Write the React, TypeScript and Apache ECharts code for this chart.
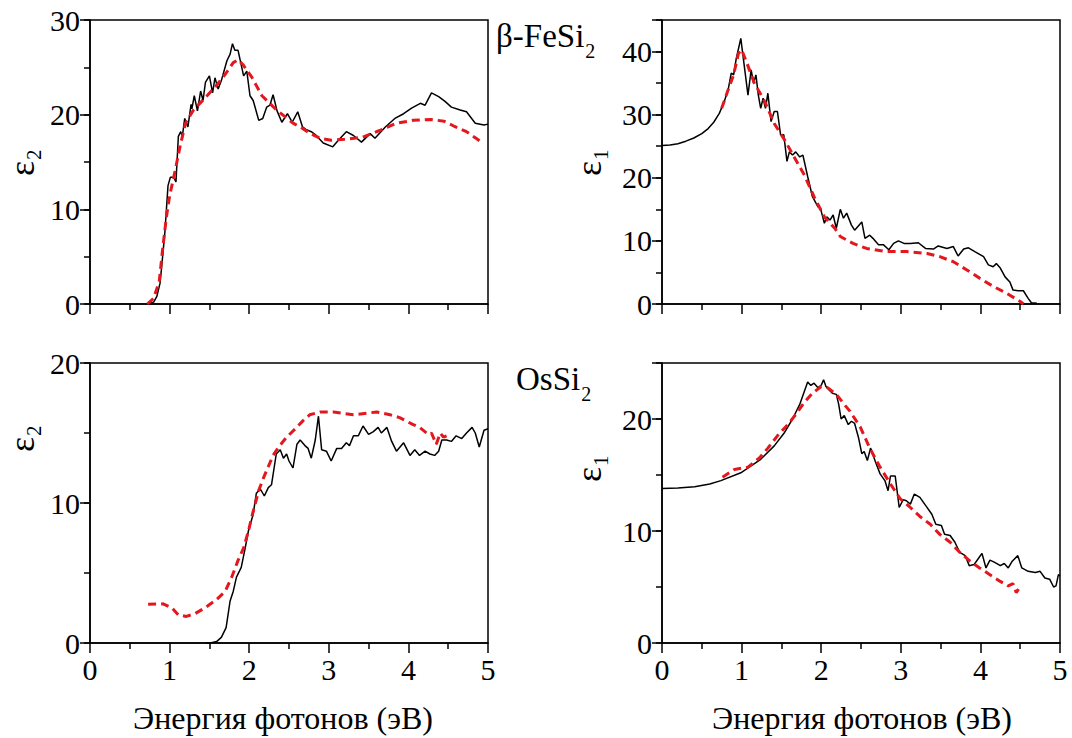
import React, { useEffect, useRef } from 'react';
import * as echarts from 'echarts';

const FONT = '"Liberation Serif", "Times New Roman", serif';

// x axis (photon energy, eV)
const xMin = 0;
const xMax = 5;
// y-axis maxima for the four panels: TL, TR, BL, BR
const yMaxes = [30, 45, 20, 25];

// β-FeSi2, ε2 — experiment (black) and calculation (red dashed)
const feEps2Exp: [number, number][] = [
  [0.72, 0], [0.8, 0.2], [0.84, 0.8], [0.88, 2.2], [0.9, 3.9], [0.94, 7.5], [0.98, 12.5], [1.01, 13.4], [1.05, 13.4],
  [1.08, 12.9], [1.11, 17.7], [1.14, 18.2], [1.16, 17.7], [1.19, 19.6], [1.23, 18.7], [1.27, 21.1], [1.28, 20.6],
  [1.31, 22.0], [1.35, 20.4], [1.39, 22.5], [1.42, 21.5], [1.45, 23.4], [1.5, 24.1], [1.54, 22.3], [1.57, 23.9],
  [1.61, 22.7], [1.65, 23.6], [1.72, 25.7], [1.76, 26.4], [1.79, 27.5], [1.82, 26.8], [1.86, 26.8], [1.93, 24.1],
  [1.97, 24.6], [2.01, 22.0], [2.05, 21.5], [2.12, 19.4], [2.17, 19.6], [2.22, 20.8], [2.26, 21.0], [2.3, 22.1],
  [2.35, 20.4], [2.41, 19.2], [2.48, 20.1], [2.54, 19.2], [2.61, 20.3], [2.67, 18.7], [2.72, 18.4], [2.78, 18.2],
  [2.83, 17.9], [2.93, 17.0], [3.05, 16.6], [3.12, 17.3], [3.22, 18.2], [3.31, 17.8], [3.41, 17.1], [3.52, 18.0],
  [3.58, 17.5], [3.71, 18.7], [3.83, 19.6], [3.94, 20.1], [4.04, 20.7], [4.15, 21.2], [4.21, 21.0], [4.29, 22.3],
  [4.38, 21.9], [4.46, 21.4], [4.54, 20.8], [4.65, 20.5], [4.73, 20.3], [4.84, 19.1], [4.95, 18.9], [5.0, 19.0],
];
const feEps2Calc: [number, number][] = [
  [0.72, 0], [0.8, 0.6], [0.87, 2.4], [0.91, 5.6], [0.96, 9.2], [1.0, 11.4], [1.07, 14.1], [1.13, 16.6], [1.2, 19.1],
  [1.3, 20.5], [1.45, 21.8], [1.6, 23.2], [1.71, 24.4], [1.8, 25.5], [1.86, 25.8], [1.92, 25.3], [2.03, 24.0],
  [2.16, 22.0], [2.33, 20.6], [2.55, 19.1], [2.64, 18.7], [2.77, 18.0], [2.89, 17.5], [3.03, 17.3], [3.2, 17.4],
  [3.42, 17.6], [3.63, 18.3], [3.85, 19.1], [4.06, 19.4], [4.28, 19.5], [4.45, 19.3], [4.57, 18.8], [4.73, 18.2],
  [4.85, 17.5], [4.9, 17.2],
];

// β-FeSi2, ε1
const feEps1Exp: [number, number][] = [
  [0, 25.1], [0.1, 25.2], [0.2, 25.4], [0.3, 25.8], [0.4, 26.3], [0.5, 27.0], [0.58, 27.8], [0.65, 28.8],
  [0.72, 30.2], [0.78, 32.0], [0.83, 33.9], [0.87, 36.6], [0.9, 36.3], [0.93, 38.7], [0.99, 42.1], [1.03, 38.1],
  [1.08, 33.1], [1.12, 37.1], [1.15, 35.0], [1.18, 36.3], [1.21, 33.1], [1.24, 31.0], [1.27, 32.6], [1.3, 31.0],
  [1.33, 33.4], [1.37, 28.9], [1.41, 30.5], [1.45, 30.5], [1.49, 26.8], [1.53, 26.8], [1.57, 22.6], [1.6, 24.1],
  [1.64, 23.6], [1.68, 24.1], [1.73, 23.3], [1.77, 23.6], [1.83, 20.2], [1.89, 17.0], [1.96, 15.4], [1.99, 15.2],
  [2.04, 12.8], [2.07, 13.8], [2.11, 13.3], [2.15, 14.1], [2.19, 12.0], [2.24, 15.0], [2.28, 13.6], [2.32, 14.4],
  [2.38, 12.5], [2.42, 11.7], [2.51, 13.0], [2.55, 10.4], [2.61, 10.9], [2.65, 10.4], [2.72, 9.4], [2.78, 9.4],
  [2.85, 8.6], [2.91, 9.6], [2.97, 10.0], [3.04, 9.6], [3.12, 9.6], [3.22, 9.7], [3.31, 8.8], [3.41, 8.7],
  [3.47, 9.2], [3.58, 8.8], [3.66, 9.1], [3.72, 7.6], [3.79, 8.7], [3.85, 8.9], [3.93, 8.3], [4.04, 7.5],
  [4.1, 6.2], [4.16, 5.9], [4.2, 6.4], [4.25, 5.7], [4.31, 4.3], [4.37, 3.5], [4.41, 2.2], [4.48, 2.1],
  [4.54, 2.1], [4.6, 0.9], [4.64, 0.2], [4.71, 0.1],
];
const feEps1Calc: [number, number][] = [
  [0.75, 31.0], [0.83, 33.9], [0.9, 36.3], [0.96, 39.7], [1.0, 40.3], [1.06, 38.4], [1.16, 35.0], [1.29, 32.1],
  [1.41, 28.6], [1.54, 26.0], [1.66, 23.3], [1.79, 20.4], [1.91, 17.0], [2.04, 13.8], [2.17, 12.0], [2.24, 10.7],
  [2.4, 9.6], [2.57, 8.8], [2.82, 8.3], [3.07, 8.3], [3.33, 8.0], [3.49, 7.5], [3.66, 6.7], [3.83, 5.4], [3.99, 4.1],
  [4.16, 2.8], [4.33, 1.7], [4.5, 0.4], [4.54, 0],
];

// OsSi2, ε2
const osEps2Exp: [number, number][] = [
  [1.45, 0], [1.51, 0], [1.59, 0.1], [1.65, 0.4], [1.71, 1.1], [1.76, 3.0], [1.8, 3.7], [1.84, 4.7], [1.9, 5.4],
  [1.95, 6.8], [1.99, 8.0], [2.05, 9.2], [2.09, 10.7], [2.14, 11.0], [2.19, 10.5], [2.24, 11.1], [2.28, 11.3],
  [2.34, 13.5], [2.39, 13.8], [2.43, 13.2], [2.47, 13.5], [2.5, 13.0], [2.55, 12.5], [2.6, 14.2], [2.64, 14.5],
  [2.7, 14.1], [2.74, 13.9], [2.78, 13.2], [2.83, 14.5], [2.87, 16.2], [2.91, 13.8], [2.97, 13.7], [3.03, 13.0],
  [3.1, 13.9], [3.16, 13.9], [3.22, 14.3], [3.26, 14.1], [3.31, 14.8], [3.37, 14.8], [3.43, 15.5], [3.5, 14.9],
  [3.56, 15.1], [3.62, 15.4], [3.66, 15.0], [3.73, 15.4], [3.79, 14.4], [3.85, 13.7], [3.94, 14.3], [4.02, 13.4],
  [4.08, 13.8], [4.14, 13.4], [4.21, 13.7], [4.27, 13.5], [4.33, 13.4], [4.38, 13.7], [4.42, 14.5], [4.48, 14.5],
  [4.54, 14.4], [4.6, 14.8], [4.67, 14.6], [4.73, 15.0], [4.8, 15.4], [4.84, 15.0], [4.89, 14.0], [4.95, 15.2],
  [5.0, 15.3],
];
const osEps2Calc: [number, number][] = [
  [0.73, 2.76], [0.92, 2.8], [1.03, 2.5], [1.11, 2.0], [1.21, 1.9], [1.32, 2.1], [1.44, 2.5], [1.59, 3.1],
  [1.7, 3.7], [1.78, 4.7], [1.86, 5.9], [1.93, 6.8], [1.99, 8.0], [2.05, 9.4], [2.12, 10.9], [2.18, 11.8],
  [2.24, 12.6], [2.3, 13.4], [2.37, 14.0], [2.47, 14.7], [2.58, 15.3], [2.68, 15.9], [2.76, 16.3], [2.89, 16.5],
  [3.06, 16.5], [3.31, 16.3], [3.6, 16.5], [3.77, 16.3], [3.89, 16.1], [4.06, 15.6], [4.14, 15.4], [4.25, 14.9],
  [4.29, 15.0], [4.35, 14.2], [4.4, 15.0], [4.44, 14.7], [4.48, 14.8],
];

// OsSi2, ε1
const osEps1Exp: [number, number][] = [
  [0, 13.8], [0.2, 13.85], [0.41, 13.95], [0.6, 14.2], [0.74, 14.5], [0.99, 15.2], [1.24, 16.4], [1.41, 17.6],
  [1.54, 18.8], [1.64, 20.0], [1.73, 21.3], [1.79, 22.5], [1.83, 23.3], [1.87, 23.0], [1.91, 23.2], [1.96, 22.8],
  [2.0, 23.0], [2.03, 23.5], [2.06, 22.9], [2.1, 22.6], [2.14, 22.3], [2.19, 22.2], [2.22, 21.3], [2.25, 20.0],
  [2.29, 20.3], [2.34, 19.5], [2.38, 19.8], [2.42, 19.6], [2.47, 18.3], [2.51, 16.9], [2.54, 17.1], [2.58, 16.3],
  [2.62, 17.4], [2.68, 16.2], [2.74, 15.1], [2.8, 14.5], [2.84, 13.6], [2.87, 14.9], [2.93, 14.9], [2.98, 12.1],
  [3.03, 12.8], [3.07, 12.7], [3.12, 12.4], [3.17, 13.3], [3.24, 13.0], [3.32, 12.2], [3.39, 11.5], [3.44, 10.6],
  [3.51, 10.5], [3.55, 9.7], [3.62, 9.6], [3.68, 9.0], [3.74, 8.1], [3.81, 7.8], [3.86, 6.9], [3.92, 7.0],
  [3.97, 7.5], [4.02, 8.0], [4.07, 6.7], [4.12, 7.4], [4.18, 7.2], [4.25, 6.9], [4.3, 7.1], [4.35, 6.7], [4.4, 7.3],
  [4.47, 7.8], [4.52, 6.7], [4.6, 6.4], [4.69, 6.3], [4.75, 6.4], [4.81, 5.8], [4.87, 5.7], [4.92, 5.0],
  [4.95, 5.1], [4.98, 6.1], [5.0, 6.0],
];
const osEps1Calc: [number, number][] = [
  [0.76, 14.8], [0.91, 15.5], [1.08, 15.7], [1.22, 16.5], [1.33, 17.4], [1.45, 18.5], [1.58, 19.5], [1.68, 20.4],
  [1.79, 21.5], [1.89, 22.3], [2.0, 22.9], [2.08, 22.8], [2.19, 22.2], [2.29, 21.3], [2.36, 20.7], [2.49, 19.3],
  [2.61, 17.4], [2.74, 15.7], [2.87, 14.2], [2.99, 12.9], [3.12, 12.1], [3.24, 11.3], [3.37, 10.6], [3.49, 9.7],
  [3.62, 9.0], [3.74, 8.1], [3.87, 7.3], [3.99, 6.7], [4.12, 6.1], [4.25, 5.5], [4.35, 5.1], [4.41, 5.3],
  [4.45, 4.5], [4.48, 4.8],
];

const panelData = [
  [feEps2Exp, feEps2Calc],
  [feEps1Exp, feEps1Calc],
  [osEps2Exp, osEps2Calc],
  [osEps1Exp, osEps1Calc],
];

const xTitle = 'Энергия фотонов (эВ)';
const materialLabels = ['β-FeSi', 'OsSi'];

function measure(text: string, size: number): number {
  const c = document.createElement('canvas').getContext('2d');
  if (!c) return text.length * size * 0.5;
  c.font = `${size}px "Liberation Serif"`;
  return c.measureText(text).width;
}

function subLabel(x: number, y: number, main: string, sub: string, size: number, subSize: number, subDy: number, rotated: boolean) {
  const w = measure(main, size);
  return {
    type: 'group',
    x,
    y,
    rotation: rotated ? Math.PI / 2 : 0,
    children: [
      { type: 'text', x: 0, y: 0, style: { text: main, fontSize: size, fontFamily: FONT, fill: '#000', textAlign: 'left', textVerticalAlign: 'middle' } },
      { type: 'text', x: w + 1, y: subDy, style: { text: sub, fontSize: subSize, fontFamily: FONT, fill: '#000', textAlign: 'left', textVerticalAlign: 'middle' } },
    ],
  };
}

export default function App() {
  const ref = useRef<HTMLDivElement>(null);
  useEffect(() => {
    document.body.style.margin = '0';
    const chart = echarts.init(ref.current!, null, { renderer: 'svg' });
    const grids = [
      { left: 90, top: 20, width: 398, height: 284 },
      { left: 662, top: 20, width: 398, height: 284 },
      { left: 90, top: 363, width: 398, height: 280 },
      { left: 662, top: 363, width: 398, height: 280 },
    ];
    const black = { color: '#000', width: 1.5 };
    const xAxes = grids.map((_, i) => ({
      type: 'value', gridIndex: i, min: xMin, max: xMax, interval: 1,
      axisLine: { show: true, onZero: false, lineStyle: black },
      axisTick: { show: true, inside: false, length: 10, lineStyle: black },
      minorTick: { show: true, splitNumber: 2, length: 6, lineStyle: black },
      splitLine: { show: false },
      minorSplitLine: { show: false },
      axisLabel: { show: i >= 2, fontFamily: FONT, fontSize: 30, color: '#000', margin: 11 },
    }));
    const yAxes: any[] = [];
    grids.forEach((_, i) => {
      yAxes.push({
        type: 'value', gridIndex: i, position: 'left', min: 0, max: yMaxes[i], interval: 10,
        axisLine: { show: true, onZero: false, lineStyle: black },
        axisTick: { show: true, inside: false, length: 10, lineStyle: black },
        splitLine: { show: false },
        axisLabel: {
          fontFamily: FONT, fontSize: 30, color: '#000', margin: 10,
          formatter: (v: number) => (v % 10 === 0 ? String(v) : ''),
        },
      });
      yAxes.push({
        type: 'value', gridIndex: i, position: 'left', min: 0, max: yMaxes[i], interval: 5,
        axisLine: { show: false },
        axisTick: { show: true, inside: false, length: 6, lineStyle: black },
        splitLine: { show: false },
        axisLabel: { show: false },
      });
    });
    const series: any[] = [];
    panelData.forEach(([exp, calc], i) => {
      series.push({
        type: 'line', xAxisIndex: i, yAxisIndex: 2 * i, data: exp, showSymbol: false, symbol: 'none',
        lineStyle: { color: '#000', width: 1.5 }, z: 3,
      });
      series.push({
        type: 'line', xAxisIndex: i, yAxisIndex: 2 * i, data: calc, showSymbol: false, symbol: 'none',
        lineStyle: { color: '#e3171d', width: 3, type: [8, 5] }, z: 4,
      });
    });
    const graphic: any[] = [
      subLabel(496, 36, materialLabels[0], '2', 33, 20, 15, false),
      subLabel(516, 379, materialLabels[1], '2', 33, 20, 15, false),
      subLabel(22, 176, 'ε', '2', 36, 21, 12, true),
      subLabel(589, 176, 'ε', '1', 36, 21, 12, true),
      subLabel(22, 452, 'ε', '2', 36, 21, 12, true),
      subLabel(589, 482, 'ε', '1', 36, 21, 12, true),
      { type: 'text', x: 283, y: 718, style: { text: xTitle, fontSize: 32, fontFamily: FONT, fill: '#000', textAlign: 'center', textVerticalAlign: 'middle' } },
      { type: 'text', x: 862, y: 718, style: { text: xTitle, fontSize: 32, fontFamily: FONT, fill: '#000', textAlign: 'center', textVerticalAlign: 'middle' } },
    ];
    chart.setOption({
      animation: false,
      backgroundColor: '#fff',
      grid: grids.map((g) => ({ ...g, show: true, borderColor: '#000', borderWidth: 1.5, backgroundColor: 'transparent', containLabel: false })),
      xAxis: xAxes,
      yAxis: yAxes,
      series,
      graphic,
    });
    return () => chart.dispose();
  }, []);
  return <div ref={ref} style={{ width: 1072, height: 738, background: '#fff' }} />;
}
